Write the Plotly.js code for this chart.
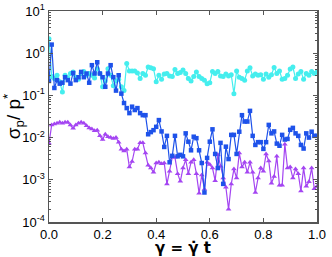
<!DOCTYPE html>
<html><head><meta charset="utf-8">
<script src="https://cdn.plot.ly/plotly-3.0.1.min.js"></script>
<style>html,body{margin:0;padding:0;background:#fff}#chart{width:332px;height:257px}</style>
</head><body><div id="chart"></div>
<script>
const gamma = [];
for (let i = 0; i <= 100; i++) gamma.push(+(i / 100).toFixed(2));

const cyanSeries = [2.2,0.28,0.25,0.3,0.21,0.12,0.3,0.26,0.33,0.36,0.27,0.24,0.33,0.37,0.3,0.33,0.3,0.26,0.43,0.33,
0.16,0.22,0.43,0.3,0.17,0.22,0.24,0.16,0.13,0.57,0.38,0.38,0.38,0.34,0.25,0.33,0.3,0.47,0.45,0.43,
0.21,0.3,0.24,0.32,0.33,0.29,0.28,0.41,0.33,0.35,0.4,0.33,0.25,0.22,0.28,0.36,0.28,0.25,0.23,0.19,
0.2,0.37,0.33,0.37,0.29,0.28,0.32,0.29,0.31,0.11,0.38,0.27,0.25,0.23,0.38,0.45,0.29,0.32,0.3,0.31,
0.24,0.32,0.27,0.31,0.46,0.33,0.38,0.24,0.25,0.3,0.42,0.47,0.25,0.32,0.37,0.24,0.33,0.3,0.37,0.33,0.36];

const blueSeries = [0.22,1.6,0.15,0.23,0.19,0.2,0.27,0.23,0.19,0.34,0.23,0.27,0.36,0.27,0.33,0.2,0.52,0.33,0.61,0.33,
0.27,0.16,0.33,0.52,0.27,0.13,0.3,0.11,0.066,0.05,0.038,0.054,0.045,0.05,0.038,0.034,0.034,0.012,0.0135,0.015,
0.018,0.026,0.014,0.006,0.011,0.0026,0.0037,0.011,0.0036,0.0039,0.0036,0.0126,0.008,0.005,0.0105,0.0097,0.005,0.0025,0.0005,0.0033,
0.008,0.0157,0.0041,0.0019,0.0075,0.0008,0.0061,0.0031,0.0116,0.0116,0.0041,0.0138,0.034,0.024,0.024,0.043,0.011,0.0067,0.0078,0.0078,
0.0054,0.0078,0.02,0.0126,0.014,0.0072,0.0064,0.0116,0.009,0.0093,0.0153,0.017,0.0126,0.011,0.0067,0.0055,0.0126,0.01,0.0138,0.011,0.011];

const purpleSeries = [0.0073,0.02,0.021,0.022,0.023,0.022,0.023,0.023,0.02,0.0166,0.02,0.022,0.023,0.022,0.019,0.017,0.016,0.0145,0.015,0.011,
0.009,0.012,0.0105,0.01,0.0095,0.01,0.0078,0.0053,0.0048,0.0053,0.002,0.0027,0.0053,0.0053,0.0076,0.0076,0.0043,0.0022,0.0019,0.0015,
0.0025,0.0026,0.0024,0.0025,0.00079,0.0016,0.0034,0.0034,0.0014,0.00092,0.0019,0.003,0.0014,0.0026,0.003,0.0014,0.00048,0.0013,0.0006,0.0026,
0.0023,0.0019,0.00095,0.0039,0.0021,0.0011,0.00067,0.0002,0.00079,0.0018,0.0011,0.0043,0.002,0.0026,0.0015,0.0026,0.0015,0.0005,0.0011,0.0019,
0.0016,0.0041,0.0028,0.00083,0.0012,0.0036,0.00074,0.00074,0.007,0.0019,0.002,0.0011,0.0018,0.0014,0.00054,0.0019,0.0007,0.0009,0.0019,0.00061,0.0007];

const xTickVals = [0, 0.2, 0.4, 0.6, 0.8, 1.0];
const xTickText = ['0.0', '0.2', '0.4', '0.6', '0.8', '1.0'];
const yTickVals = [1e-4, 1e-3, 1e-2, 1e-1, 1, 10];
const yTickText = ['10<sup>-4</sup>', '10<sup>-3</sup>', '10<sup>-2</sup>', '10<sup>-1</sup>', '10<sup>0</sup>', '10<sup>1</sup>'];

function tr(y, color, symbol, size) {
  return {x: gamma, y: y, type: 'scatter', mode: 'lines+markers',
    line: {color: color, width: 1.2},
    marker: {color: color, symbol: symbol, size: size, line: {width: 0}},
    showlegend: false, cliponaxis: true};
}

const data = [
  tr(cyanSeries, '#45EEEE', 'circle', 5),
  tr(purpleSeries, '#A445F2', 'triangle-up', 5),
  tr(blueSeries, '#1E52EA', 'square', 4.5)
];

const axisCommon = {showline: true, mirror: 'ticks', linecolor: '#555', linewidth: 1.5,
  ticks: 'inside', tickcolor: '#555', showgrid: false, zeroline: false,
  tickfont: {family: 'Liberation Sans, Arial, sans-serif', size: 13, color: '#000'}};

const layout = {
  width: 332, height: 257,
  margin: {l: 49, r: 15, t: 11, b: 35},
  paper_bgcolor: '#fff', plot_bgcolor: '#fff',
  xaxis: Object.assign({}, axisCommon, {range: [0, 1], tickvals: xTickVals, ticktext: xTickText,
    ticklen: 4, tickwidth: 1,
    title: {text: '<b>γ = γ̇ t</b>', standoff: 2, font: {family: 'DejaVu Sans, sans-serif', size: 15, color: '#000'}}}),
  yaxis: Object.assign({}, axisCommon, {type: 'log', range: [-4, 1], tickvals: yTickVals, ticktext: yTickText,
    ticklen: 4, tickwidth: 1,
    minor: {ticks: 'inside', ticklen: 2, tickcolor: '#555', dtick: 'D1'},
    title: {text: 'σ<sub>p</sub>/ p<sup>*</sup>', standoff: 4, font: {family: 'Liberation Sans, Arial, sans-serif', size: 19, color: '#000'}}})
};

Plotly.newPlot('chart', data, layout, {staticPlot: true, displayModeBar: false});
</script></body></html>
